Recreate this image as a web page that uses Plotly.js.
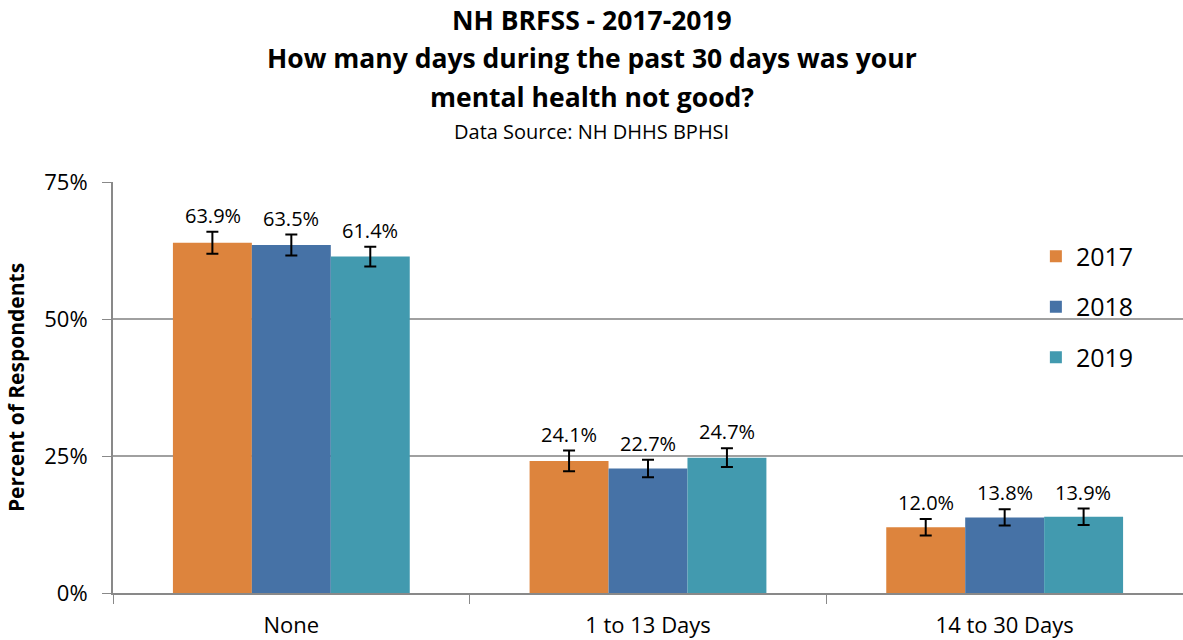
<!DOCTYPE html>
<html>
<head>
<meta charset="utf-8">
<script src="https://cdn.plot.ly/plotly-3.0.1.min.js"></script>
<style>html,body{margin:0;padding:0;background:#fff;}#chart{width:1183px;height:640px;}</style>
</head>
<body>
<div id="chart"></div>
<script>
const categories = ["None", "1 to 13 Days", "14 to 30 Days"];
const years = ["2017", "2018", "2019"];
const values2017 = [63.9, 24.1, 12.0];
const values2018 = [63.5, 22.7, 13.8];
const values2019 = [61.4, 24.7, 13.9];
const err2017 = [2.0, 1.9, 1.5];
const err2018 = [1.9, 1.6, 1.5];
const err2019 = [1.8, 1.7, 1.5];
const colors = ["#DD843D", "#4672A6", "#429AAF"];

const seriesVals = [values2017, values2018, values2019];
const seriesErr = [err2017, err2018, err2019];
const font = "Open Sans, Noto Sans, sans-serif";

const traces = years.map((y, i) => ({
  type: "bar",
  name: y,
  x: categories,
  y: seriesVals[i],
  marker: {color: colors[i]},
  legendgroup: "g" + i,
  error_y: {type: "data", array: seriesErr[i], visible: true, color: "#000", thickness: 2, width: 6},
  hoverinfo: "y"
}));

const offsets = [-1, 0, 1];
const annotations = [];
years.forEach((y, i) => {
  categories.forEach((c, j) => {
    annotations.push({
      x: j + offsets[i] * 0.221, xref: "x",
      y: seriesVals[i][j] + seriesErr[i][j], yref: "y",
      text: seriesVals[i][j].toFixed(1) + "%",
      showarrow: false, yanchor: "bottom", yshift: 1,
      font: {family: font, size: 20, color: "#000"}
    });
  });
});
const titleLines = ["NH BRFSS - 2017-2019", "How many days during the past 30 days was your", "mental health not good?"];
const titleY = [20, 58, 97];
titleLines.forEach((t, k) => {
  annotations.push({
    x: 0.5, xref: "paper", xanchor: "center",
    y: 1 + (182 - titleY[k]) / 411, yref: "paper", yanchor: "middle",
    text: "<b>" + t + "</b>", showarrow: false,
    font: {family: font, size: 26.5, color: "#000"}
  });
});
annotations.push({
  x: 0.5, xref: "paper", xanchor: "center",
  y: 1 + (182 - 132) / 411, yref: "paper", yanchor: "middle",
  text: "Data Source: NH DHHS BPHSI", showarrow: false,
  font: {family: font, size: 20, color: "#000"}
});
annotations.forEach(a => { if (a.xref === "paper") { a.xshift = -56.5; } });

const layout = {
  width: 1183, height: 640,
  margin: {l: 113, r: 0, t: 182, b: 47},
  paper_bgcolor: "#fff", plot_bgcolor: "#fff",
  barmode: "group",
  bargap: 0.336, bargroupgap: 0,
  showlegend: true,
  legend: {x: 0.8625, xanchor: "left", y: 0.875, yanchor: "top",
           bgcolor: "rgba(0,0,0,0)", font: {family: font, size: 25, color: "#000"},
           tracegroupgap: 15, itemwidth: 30},
  xaxis: {
    type: "category", tickson: "boundaries", ticks: "outside", ticklen: 9,
    tickcolor: "#898989", showline: true, linecolor: "#898989", linewidth: 2,
    tickfont: {family: font, size: 22, color: "#000"}, ticklabelstandoff: 12,
    showgrid: false
  },
  yaxis: {
    range: [0, 75], tickvals: [0, 25, 50, 75], ticktext: ["0%", "25%", "50%", "75%"],
    ticks: "outside", ticklen: 9, tickcolor: "#898989",
    showline: true, linecolor: "#898989", linewidth: 2,
    showgrid: true, gridcolor: "#A0A0A0", gridwidth: 2,
    zeroline: false,
    tickfont: {family: font, size: 22, color: "#000"}, ticklabelstandoff: 10,
    title: {text: "<b>Percent of Respondents</b>", font: {family: font, size: 21, color: "#000"}, standoff: 14}
  },
  annotations: annotations
};

Plotly.newPlot("chart", traces, layout, {displayModeBar: false});
</script>
</body>
</html>
